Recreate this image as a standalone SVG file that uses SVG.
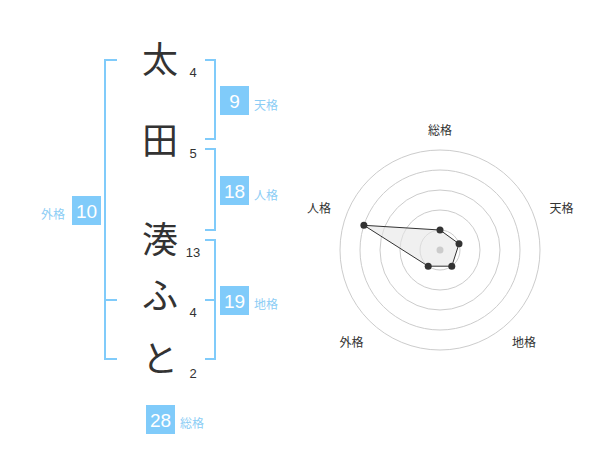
<svg xmlns="http://www.w3.org/2000/svg" width="600" height="470" viewBox="0 0 600 470">
<style>
.kanji{font-family:"Noto Sans CJK JP","Noto Sans",sans-serif;font-size:36px;fill:#333;text-anchor:middle}
.num{font-family:"Liberation Sans",Arial,sans-serif;font-size:13px;fill:#333;text-anchor:middle}
.br{fill:none;stroke:#80cbfa;stroke-width:2}
.box{fill:#80cbfa}
.bnum{font-family:"Liberation Sans",Arial,sans-serif;font-size:19px;fill:#fff;text-anchor:middle}
.lab{font-family:"Noto Sans CJK JP",sans-serif;font-size:12px;fill:#8ccdf5}
.ring{fill:none;stroke:#cccccc;stroke-width:1}
.rlab{font-family:"Noto Sans CJK JP",sans-serif;font-size:12px;fill:#333;text-anchor:middle}
.dot{fill:#333}
</style>
<rect width="600" height="470" fill="#fff"/>
<g id="name">
<text class="kanji" x="160" y="73">太</text>
<text class="kanji" x="160" y="154">田</text>
<text class="kanji" x="160" y="253">湊</text>
<text class="kanji" x="160" y="309">ふ</text>
<text class="kanji" x="160" y="372">と</text>
</g>
<g id="strokes">
<text class="num" x="193" y="77">4</text>
<text class="num" x="193" y="158">5</text>
<text class="num" x="193" y="257">13</text>
<text class="num" x="193" y="317">4</text>
<text class="num" x="193" y="378">2</text>
</g>
<g id="connectors">
<path class="br" d="M117,60H105V359H117M105,300H117"/>
<path class="br" d="M205,60H215V139H205"/>
<path class="br" d="M205,149H215V230H205"/>
<path class="br" d="M205,240H215V359H205M215,300H205"/>
</g>
<g id="tenkaku">
<rect class="box" x="220" y="86" width="29" height="29"/>
<text class="bnum" x="234.5" y="108">9</text>
<text class="lab" x="254" y="110">天格</text>
</g>
<g id="jinkaku">
<rect class="box" x="220" y="176" width="29" height="29"/>
<text class="bnum" x="234.5" y="198">18</text>
<text class="lab" x="254" y="200">人格</text>
</g>
<g id="chikaku">
<rect class="box" x="220" y="286" width="29" height="29"/>
<text class="bnum" x="234.5" y="308">19</text>
<text class="lab" x="254" y="309">地格</text>
</g>
<g id="gaikaku">
<rect class="box" x="72" y="196" width="29" height="29"/>
<text class="bnum" x="86.5" y="218">10</text>
<text class="lab" x="41" y="219">外格</text>
</g>
<g id="soukaku">
<rect class="box" x="146" y="405" width="29" height="29"/>
<text class="bnum" x="160.5" y="427">28</text>
<text class="lab" x="180" y="428">総格</text>
</g>
<g id="radar">
<circle class="ring" cx="440" cy="250" r="100"/>
<circle class="ring" cx="440" cy="250" r="80"/>
<circle class="ring" cx="440" cy="250" r="60"/>
<circle class="ring" cx="440" cy="250" r="40"/>
<circle class="ring" cx="440" cy="250" r="20"/>
<polygon points="440,230 459,243.8 451.8,266.2 428.2,266.2 363.9,225.3" fill="#e6e6e6" fill-opacity="0.6" stroke="#333" stroke-width="1"/>
<circle cx="440" cy="250" r="3.5" fill="#cccccc"/>
<circle class="dot" cx="440" cy="230" r="3.5"/>
<circle class="dot" cx="459" cy="243.8" r="3.5"/>
<circle class="dot" cx="451.8" cy="266.2" r="3.5"/>
<circle class="dot" cx="428.2" cy="266.2" r="3.5"/>
<circle class="dot" cx="363.9" cy="225.3" r="3.5"/>
<text class="rlab" x="440" y="135">総格</text>
<text class="rlab" x="561.5" y="213">天格</text>
<text class="rlab" x="524" y="347">地格</text>
<text class="rlab" x="351.5" y="347">外格</text>
<text class="rlab" x="319" y="213">人格</text>
</g>
</svg>
